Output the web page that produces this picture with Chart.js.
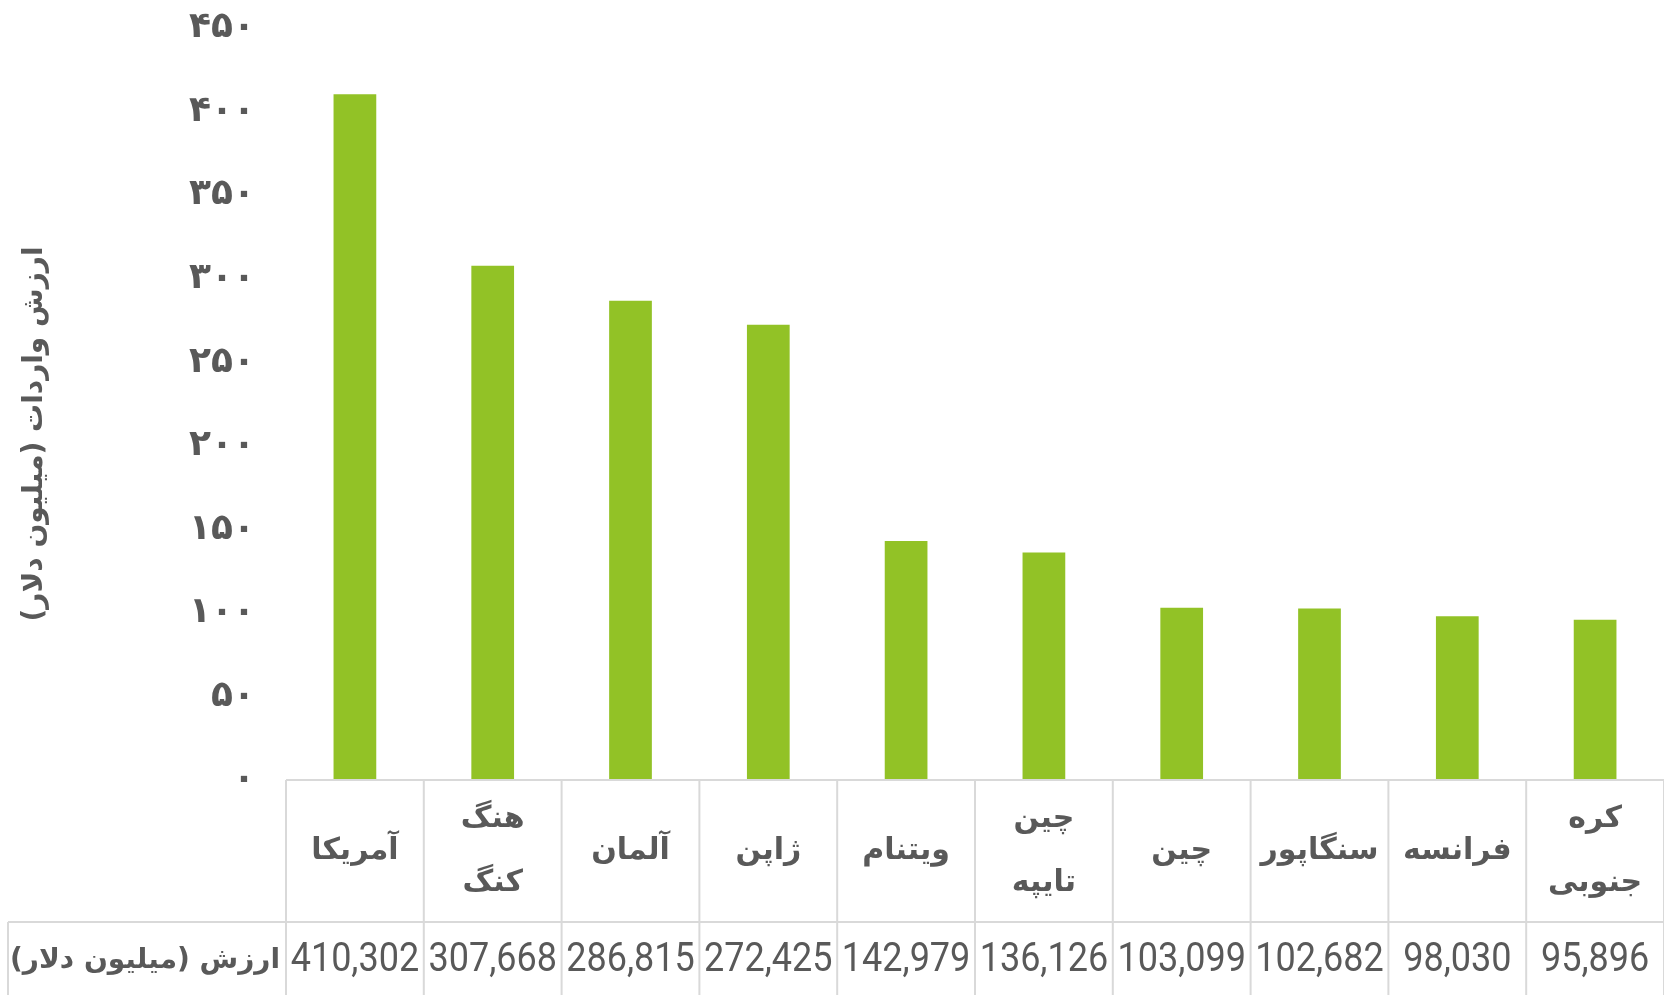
<!DOCTYPE html>
<html lang="fa">
<head>
<meta charset="utf-8">
<title>ارزش واردات</title>
<script src="https://cdn.jsdelivr.net/npm/chart.js@4.4.1/dist/chart.umd.min.js"></script>
<style>
  html, body { margin: 0; padding: 0; background: #fff; }
</style>
</head>
<body>
<canvas id="myChart" width="1664" height="995"></canvas>
<script>
// داده‌ها
const countries = [['آمریکا'], ['هنگ', 'کنگ'], ['آلمان'], ['ژاپن'], ['ویتنام'], ['چین', 'تایپه'], ['چین'], ['سنگاپور'], ['فرانسه'], ['کره', 'جنوبی']];
const importValues = [410302, 307668, 286815, 272425, 142979, 136126, 103099, 102682, 98030, 95896];
const yTickLabels = ['۰', '۵۰', '۱۰۰', '۱۵۰', '۲۰۰', '۲۵۰', '۳۰۰', '۳۵۰', '۴۰۰', '۴۵۰'];
const yTitle = 'ارزش واردات (میلیون دلار)';
const rowTitle = 'ارزش (میلیون دلار)';

const textColor = '#595959';
const gridColor = '#d9d9d9';
const faFont = '"DejaVu Sans"';

// جدول داده زیر نمودار و عنوان محور
const tablePlugin = {
    id: 'dataTable',
    afterDraw(chart) {
        const ctx = chart.ctx;
        const area = chart.chartArea;
        const x = chart.scales.x;
        const top = area.bottom;
        const rowSplit = top + 142;
        const bottom = chart.height;
        const colW = (x.right - x.left) / countries.length;
        const tableLeft = 8;

        ctx.save();
        ctx.strokeStyle = gridColor;
        ctx.lineWidth = 2;
        ctx.beginPath();
        ctx.moveTo(x.left, top); ctx.lineTo(x.right, top);
        ctx.moveTo(tableLeft, rowSplit); ctx.lineTo(x.right, rowSplit);
        for (let i = 0; i <= countries.length; i++) {
            const xx = x.left + i * colW;
            ctx.moveTo(xx, top); ctx.lineTo(xx, bottom);
        }
        ctx.moveTo(tableLeft, rowSplit); ctx.lineTo(tableLeft, bottom);
        ctx.stroke();

        ctx.fillStyle = textColor;
        ctx.textBaseline = 'middle';

        // نام کشورها
        ctx.direction = 'rtl';
        ctx.textAlign = 'center';
        ctx.font = 'bold 30px ' + faFont;
        const cy = (top + rowSplit) / 2;
        const lh = 64;
        countries.forEach((lines, i) => {
            const cx = x.getPixelForValue(i);
            lines.forEach((t, j) => {
                ctx.fillText(t, cx, cy + (j - (lines.length - 1) / 2) * lh);
            });
        });

        // عنوان ردیف
        const vy = (rowSplit + bottom) / 2 + 2;
        ctx.textAlign = 'right';
        ctx.font = 'bold 28px ' + faFont;
        ctx.fillText(rowTitle, x.left - 6, vy);

        // مقادیر
        ctx.direction = 'ltr';
        ctx.textAlign = 'center';
        ctx.font = '40px Roboto';
        importValues.forEach((v, i) => {
            ctx.save();
            ctx.translate(x.getPixelForValue(i), vy);
            ctx.scale(0.9, 1);
            ctx.fillText(v.toLocaleString('en-US'), 0, 0);
            ctx.restore();
        });

        // عنوان محور عمودی
        ctx.direction = 'rtl';
        ctx.font = 'bold 28px ' + faFont;
        ctx.translate(35, 434);
        ctx.rotate(-Math.PI / 2);
        ctx.textAlign = 'center';
        ctx.fillText(yTitle, 0, 0);
        ctx.restore();
    }
};

const chart = new Chart(document.getElementById('myChart').getContext('2d'), {
    type: 'bar',
    data: {
        labels: countries.map(c => c.join(' ')),
        datasets: [{
            label: rowTitle,
            data: importValues,
            backgroundColor: '#92c226',
            categoryPercentage: 1,
            barPercentage: 0.31
        }]
    },
    options: {
        responsive: false,
        devicePixelRatio: 1,
        animation: false,
        layout: { padding: { top: 28, left: 0, right: 0, bottom: 215 } },
        plugins: {
            legend: { display: false },
            tooltip: { enabled: false }
        },
        scales: {
            x: {
                display: false
            },
            y: {
                min: 0,
                max: 450000,
                grid: { display: false },
                border: { display: false },
                ticks: {
                    stepSize: 50000,
                    padding: 23,
                    color: textColor,
                    font: { family: 'DejaVu Sans', weight: 'bold', size: 36 },
                    callback: (v, i) => yTickLabels[i]
                },
                afterFit: scale => {
                    scale.width = 286;
                    scale.paddingTop = 0;
                    scale.paddingBottom = 0;
                }
            }
        }
    },
    plugins: [tablePlugin]
});
</script>
</body>
</html>
